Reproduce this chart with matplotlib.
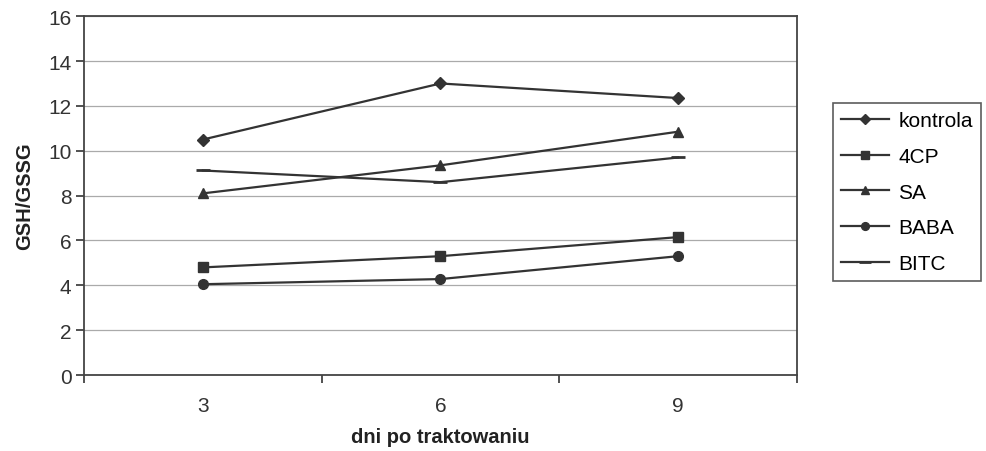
import matplotlib.pyplot as plt
import numpy as np

days = ['3', '6', '9']
kontrola = [10.5, 13.0, 12.35]
cp4 = [4.8, 5.3, 6.15]
sa = [8.1, 9.35, 10.85]
baba = [4.05, 4.28, 5.3]
bitc = [9.12, 8.6, 9.7]

series = [
    ('kontrola', kontrola, 'D', 6),
    ('4CP', cp4, 's', 7),
    ('SA', sa, '^', 7),
    ('BABA', baba, 'o', 7),
    ('BITC', bitc, '_', 10),
]

plt.rcParams['font.family'] = ['Liberation Sans', 'DejaVu Sans']
line_color = '#333333'

fig = plt.figure(figsize=(9.86, 4.52), dpi=100)
ax = fig.add_axes([0.0852, 0.168, 0.7231, 0.794])

x = np.arange(len(days)) + 0.5
for name, values, marker, size in series:
    ax.plot(x, values, color=line_color, lw=1.6, marker=marker, markersize=size,
            markeredgewidth=2 if marker == '_' else 1, label=name)

ax.set_xlim(0, 3)
ax.set_ylim(0, 16)
ax.set_yticks(range(0, 17, 2))
ax.set_xticks([0, 1, 2, 3])
ax.set_xticklabels([])
ax.set_xticks(x, minor=True)
ax.set_xticklabels(days, minor=True)
ax.tick_params(axis='x', which='minor', length=0, pad=15, labelsize=15, colors='#333333')
ax.tick_params(axis='x', which='major', length=6, direction='out', width=1.2, color='#333333')
ax.tick_params(axis='y', length=6, direction='out', width=1.2, labelsize=15, pad=3, colors='#333333')
ax.yaxis.grid(True, color='#aaaaaa', lw=0.9)
ax.set_axisbelow(True)
for sp in ax.spines.values():
    sp.set_color('#444444')
    sp.set_linewidth(1.3)

ax.set_xlabel('dni po traktowaniu', fontsize=14.5, fontweight='bold', labelpad=9, color='#222222')
ax.set_ylabel('GSH/GSSG', fontsize=14.5, fontweight='bold', labelpad=10, color='#222222')

leg = ax.legend(loc='upper left', bbox_to_anchor=(1.05, 0.758), borderaxespad=0, fontsize=15,
                frameon=True, fancybox=False, edgecolor='#333333', handlelength=2.3,
                labelspacing=0.8, borderpad=0.4, handletextpad=0.45, markerscale=0.8)
leg.get_frame().set_linewidth(1.2)

fig.savefig('out.png', dpi=100)
